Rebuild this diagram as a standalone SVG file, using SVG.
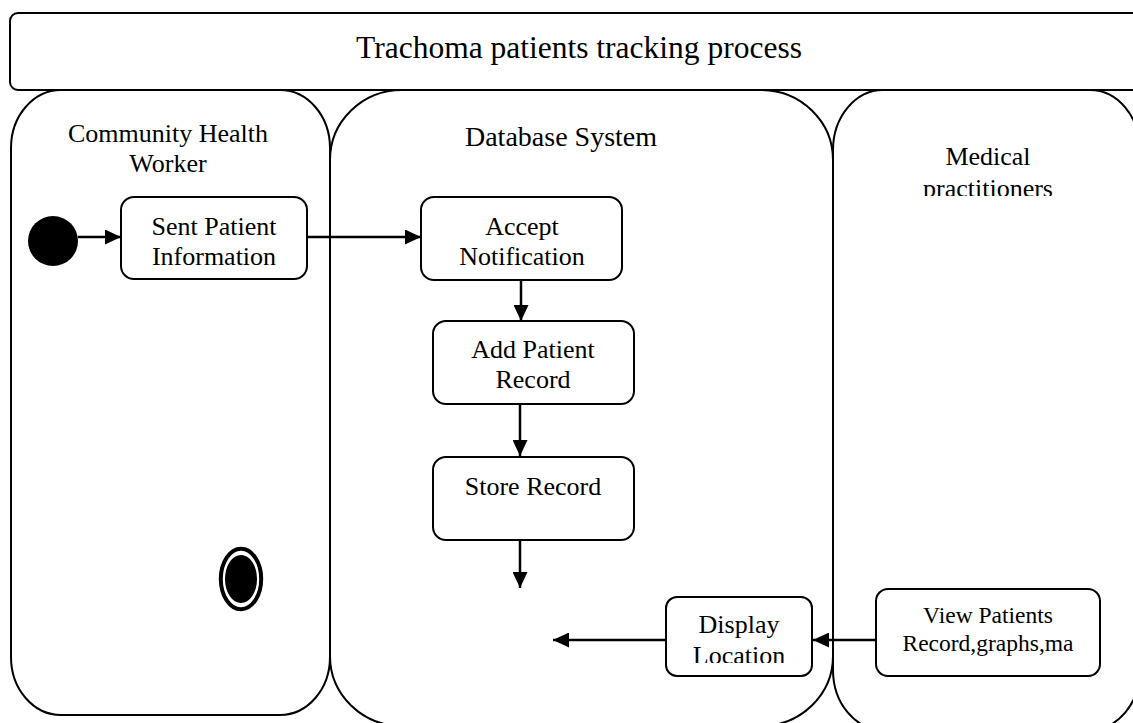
<svg xmlns="http://www.w3.org/2000/svg" width="1133" height="723" viewBox="0 0 1133 723">
  <defs>
    <style>
      .frame { fill: #ffffff; stroke: #000000; stroke-width: 2; }
      .lane { fill: none; stroke: #000000; stroke-width: 2; }
      .action { fill: #ffffff; stroke: #000000; stroke-width: 2; }
      .flow { fill: none; stroke: #000000; stroke-width: 2.5; marker-end: url(#arrow); }
      text { font-family: "Liberation Serif", "Times New Roman", serif; fill: #000000; text-anchor: middle; }
      .title { font-size: 31.5px; }
      .laneLabel { font-size: 26px; }
      .label { font-size: 26px; }
      .small { font-size: 23.5px; }
    </style>
    <marker id="arrow" viewBox="0 0 16 15" refX="16" refY="7.5" markerWidth="16" markerHeight="15" markerUnits="userSpaceOnUse" orient="auto">
      <path d="M0,0 L16,7.5 L0,15 Z" fill="#000000"/>
    </marker>
    <clipPath id="clipPractitioners">
      <rect x="900" y="170" width="180" height="26"/>
    </clipPath>
    <clipPath id="clipLocation">
      <rect x="670" y="640" width="140" height="23"/>
    </clipPath>
  </defs>

  <rect width="1133" height="723" fill="#ffffff"/>

  <!-- Process frame -->
  <g id="process">
    <rect class="frame" x="10" y="13" width="1140" height="77" rx="8" ry="8"/>
    <text class="title" x="579" y="58">Trachoma patients tracking process</text>
  </g>

  <!-- Swimlanes -->
  <g id="lane-chw">
    <rect class="lane" x="11" y="90" width="319" height="625" rx="50" ry="58"/>
    <text class="laneLabel" x="168" y="142">Community Health</text>
    <text class="laneLabel" x="168" y="172">Worker</text>
  </g>
  <g id="lane-db">
    <rect class="lane" x="330" y="90" width="503" height="636" rx="72" ry="70"/>
    <text class="laneLabel" x="561" y="146" style="font-size:28px">Database System</text>
  </g>
  <g id="lane-mp">
    <rect class="lane" x="833" y="90" width="307" height="640" rx="50" ry="60"/>
    <text class="laneLabel" x="988" y="165">Medical</text>
    <text class="laneLabel" x="988" y="197" clip-path="url(#clipPractitioners)">practitioners</text>
  </g>

  <!-- Connectors -->
  <g id="connectors">
    <line class="flow" x1="78" y1="237" x2="121" y2="237"/>
    <line class="flow" x1="307" y1="237" x2="421" y2="237"/>
    <line class="flow" x1="521" y1="280" x2="521" y2="321"/>
    <line class="flow" x1="520" y1="404" x2="520" y2="456"/>
    <line class="flow" x1="520" y1="540" x2="520" y2="588"/>
    <line class="flow" x1="876" y1="640" x2="813" y2="640"/>
    <line class="flow" x1="666" y1="640" x2="553" y2="640"/>
  </g>

  <!-- Start and end -->
  <g id="initial">
    <circle cx="53" cy="241" r="25" fill="#000000"/>
  </g>
  <g id="final">
    <ellipse cx="241" cy="579" rx="20.2" ry="30.2" fill="none" stroke="#000000" stroke-width="4"/>
    <ellipse cx="241" cy="579" rx="16" ry="24" fill="#000000"/>
  </g>

  <!-- Actions -->
  <g id="sent-patient-information">
    <rect class="action" x="121" y="197" width="186" height="82" rx="13" ry="13"/>
    <text class="label" x="214" y="235">Sent Patient</text>
    <text class="label" x="214" y="265">Information</text>
  </g>
  <g id="accept-notification">
    <rect class="action" x="421" y="197" width="201" height="83" rx="13" ry="13"/>
    <text class="label" x="522" y="235">Accept</text>
    <text class="label" x="522" y="265">Notification</text>
  </g>
  <g id="add-patient-record">
    <rect class="action" x="433" y="321" width="201" height="83" rx="13" ry="13"/>
    <text class="label" x="533" y="358">Add Patient</text>
    <text class="label" x="533" y="388">Record</text>
  </g>
  <g id="store-record">
    <rect class="action" x="433" y="457" width="201" height="83" rx="13" ry="13"/>
    <text class="label" x="533" y="495">Store Record</text>
  </g>
  <g id="display-location">
    <rect class="action" x="666" y="597" width="146" height="79" rx="11" ry="11"/>
    <text class="label" x="739" y="633">Display</text>
    <text class="label" x="739" y="664" clip-path="url(#clipLocation)">Location</text>
  </g>
  <g id="view-patients-record">
    <rect class="action" x="876" y="589" width="224" height="87" rx="12" ry="12"/>
    <text class="small" x="988" y="623">View Patients</text>
    <text class="small" x="988" y="651">Record,graphs,ma</text>
  </g>
</svg>
